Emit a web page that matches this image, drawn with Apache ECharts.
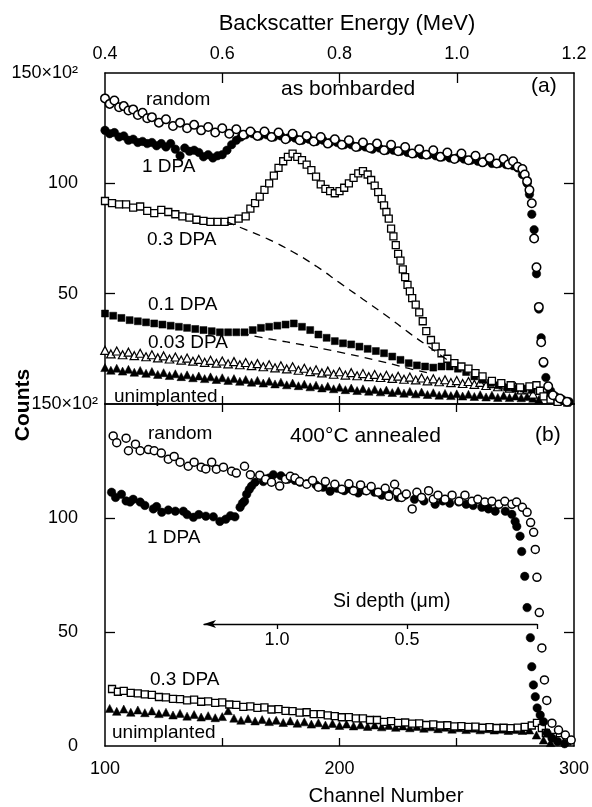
<!DOCTYPE html>
<html><head><meta charset="utf-8">
<script src="https://cdn.jsdelivr.net/npm/echarts@6/dist/echarts.min.js"></script>
<style>html,body{margin:0;padding:0;background:#fff}#c{width:592px;height:807px}</style>
</head><body><div id="c"></div>
<script>
// ---------------- DATA ----------------
// x = channel number, y = counts (x10^2)
// Panel (a) as bombarded
const randA_ch = [100,102,104,106,108,110,112,114,116,118,120,123,126,129,132,135,138,141,144,147,150,153,156,159,162,165,168,171,174,177,180,183,186,189,192,195,198,201,204,207,210,213,216,219,222,225,228,231,234,237,240,243,246,249,252,255,258,261,264,267,270,272,274,276,278,279,280,281,282,283,284,285,286,287,289,291,294,297];
const randA_v  = [138.5,136,137.5,134.5,135,133,133.5,131,132,129.5,130,127.5,129,126,127.5,125,126.5,124,125.5,123,125,122.5,124.5,122,123.5,121.5,123.5,121,123,120,122.5,119.5,121.5,119,121,118,120,117.5,119.5,116.5,118.5,116,118,115,117.5,114.5,116.5,113.5,115.5,113,115,112,114,111,113.5,110.5,112.5,109.5,111.5,109,111,108.5,110,107.5,106.5,104,101,97,91,75,62,44,28,19,8,4,2.5,1];

const dpa1A_ch = [100,102,104,106,108,110,112,114,116,118,120,122,124,126,128,130,132,134,136,138,140,142,144,146,148,150,152,154,156,158,160,163,166,169,172,175,178,181,184,187,190,193,196,199,202,205,208,211,214,217,220,223,226,229,232,235,238,241,244,247,250,253,256,259,262,265,268,271,274,276,278,280,281,282,283,284,285,286,287,288,290,292,295,298];
const dpa1A_v  = [124,122.5,123,121,121.5,119.5,120,118.5,119,118,118.5,117,118,116.5,118,115.5,112.5,116,114.5,115,114,112,113,111.5,112.5,113,115,117.5,119.5,121,122,122.5,121.5,122,121,121.5,120.5,120.5,119.5,120,119,119.5,118.5,118.5,117.5,117.5,116.5,116.5,115.5,116,115,115,114.5,114,113.5,113,113,112.5,112,111.5,111.5,111,110.5,110,110,109,109,108.5,108,107,104,100,95,86,79,59,43,30,18.5,12,6,3.5,2,1];

const dpa03A_ch = [100,103,106,109,112,115,118,121,124,127,130,133,136,139,142,145,148,151,154,157,160,162,164,166,168,170,172,174,176,178,180,182,184,186,188,190,192,194,196,198,200,202,204,206,208,210,212,213.5,215,216.5,218,219,220,221,222,223,224,225,226,227,228,229,230,231,232.5,234,235.5,237,239,241,243.5,246,249,252,255,258,261,265,269,273,277,281,284,285.5,287,290,293];
const dpa03A_v  = [92,91,90.5,90.5,89,89.5,87.5,86.5,88,87,86,85,84.5,83.5,83,82.5,82.5,82.5,83,84,85,88.5,91,94,97,100,103.5,107,110,112,113.5,112,110.5,108.5,106,103,99.5,97.5,96.5,95.5,96.5,98,100,102.5,104.5,105.5,104,101.5,99,96,93,90,87,84,79.5,76,72,68,65,61,57.5,54,51,48,45,41.5,37.5,33,29,26,23,20.5,18.5,17,16,14,12.5,10.5,9.5,8.5,7.5,8,8.5,6,3.5,2,1];

const dpa01A_ch = [100,103.5,107,110.5,114,117.5,121,124.5,128,131.5,135,138.5,142,145.5,149,152.5,156,159.5,163,166.5,170,173.5,177,180.5,184,187.5,191,194.5,198,201.5,205,208.5,212,215.5,219,222.5,226,229.5,233,236.5,240,243.5,247,250.5,254,257.5,261,264.5,268,271.5,275,278.5,282,285.5,288,291,294,297];
const dpa01A_v  = [41,40,39,38,37.5,37,36.5,36,35.5,35,34.5,34,33.5,33,32.5,32.5,32.5,32.5,33.5,34.5,35,35.5,36,36.5,35,33.5,31.5,30,28.5,27.5,27,26,25,24,23,21.5,20,18.5,17.5,17,16.5,17,17,16,14.5,12.5,11,9.5,8.5,7.5,7,7,6.5,6,4,2.5,1.5,0.5];

const dpa003A_ch = [100,102.5,105,107.5,110,112.5,115,117.5,120,122.5,125,127.5,130,132.5,135,137.5,140,142.5,145,147.5,150,152.5,155,157.5,160,162.5,165,167.5,170,172.5,175,177.5,180,182.5,185,187.5,190,192.5,195,197.5,200,202.5,205,207.5,210,212.5,215,217.5,220,222.5,225,227.5,230,232.5,235,237.5,240,242.5,245,247.5,250,252.5,255,257.5,260,262.5,265,267.5,270,272.5,275,277.5,280,282.5];
const dpa003A_v  = [24.3,22.7,24,22.3,23.5,21.9,23,21.4,22.3,20.9,21.8,20.4,21.3,19.9,20.8,19.4,20.2,18.9,19.8,18.5,19.5,18.2,19.2,17.8,18.8,17.4,18.3,16.9,17.8,16.4,17.3,15.9,16.9,15.3,16.2,14.7,15.5,14.1,14.9,13.5,14.6,13.1,14.2,12.8,13.8,12.4,13.4,12,13,11.6,12.6,11.2,12.2,10.9,11.8,10.5,11.4,10.1,11,9.7,10.6,9.3,10.2,8.9,9.8,8.4,9.2,7.8,8.6,7.2,7.8,6.4,6.8,4.5];

const unimpA_ch = [100,102.5,105,107.5,110,112.5,115,117.5,120,122.5,125,127.5,130,132.5,135,137.5,140,142.5,145,147.5,150,152.5,155,157.5,160,162.5,165,167.5,170,172.5,175,177.5,180,182.5,185,187.5,190,192.5,195,197.5,200,202.5,205,207.5,210,212.5,215,217.5,220,222.5,225,227.5,230,232.5,235,237.5,240,242.5,245,247.5,250,252.5,255,257.5,260,262.5,265,267.5,270,272.5,275,277.5,280,282.5,285];
const unimpA_v  = [16.5,15.3,16.2,14.9,15.7,14.4,15.2,13.9,14.7,13.4,14.2,12.9,13.7,12.4,13.2,11.9,12.7,11.5,12.3,11.1,11.9,10.7,11.5,10.3,11.1,9.9,10.7,9.5,10.3,9.1,9.9,8.7,9.5,8.3,9.0,7.8,8.5,7.3,8.0,6.9,7.6,6.5,7.2,6.1,6.9,5.8,6.6,5.5,6.3,5.2,6.0,4.9,5.7,4.6,5.4,4.3,5.1,4.0,4.8,3.8,4.6,3.6,4.4,3.4,4.2,3.2,4.0,3.0,3.8,2.9,3.6,2.8,3.4,2.6,2.0];

// dashed "dechanneling" baselines
const dashHi_ch = [152,160,170,180,190,200,210,220,230,240,246];
const dashHi_v  = [82.5,79,74.5,69,62.5,55,47.5,40,32,24.5,20];
const dashLo_ch = [158,170,185,200,215,230,238];
const dashLo_v  = [32,29.5,26.7,23.5,20,16,14];

// Panel (b) 400 C annealed
const randB_ch = [103.5,105,109,110,113,115,118.5,121,124,127,129.5,132,135.5,138,141,143,145.5,147.5,150.5,154,156,159.5,162,166,168.5,171,174.5,177,179,181,183,186,188.5,191,194,198,201,204,206,209,211.5,213.5,216.5,219.5,221,223.5,224.5,226.5,228.5,231,233,235,238,240,242,245,248,251,253.5,256.5,259,262,265,268,270.5,273.5,275.5,278,280,281.5,282.8,283.5,284.2,285.2,286.3,287.4,288.4,290.6,293.4,296.3,298.8];
const randB_v  = [136,133,135,129.5,132.4,129.5,130,129.5,128.5,125.8,127,124.5,122.7,124.5,122.3,121.5,124.5,121.4,122.3,120.5,119.7,122.7,119,118.8,117,115.7,114,117,118.3,117.5,116,114.8,116.5,113.5,116,114.8,112.6,115,112,114.5,112,113.8,111.3,113,109.5,114.8,111.3,109,110.5,104,111.3,109,112,108.2,110,108.2,110,107.3,110,107.3,108.2,107,107.3,106,107.3,106,107,104.7,102.5,98,93.7,86.2,74,58.5,43,29,20,10,7,4.8,2.6];

const dpa1B_ch = [102.8,104.5,107,109,110.7,112,115,117,120.6,122,124.2,127,130,133.4,135,137.7,140,143,146.2,149,151.5,153.5,155.4,157.6,158.6,159.5,160.4,161.5,162.5,164,167.5,170,171.8,175,178,181,183.2,186,190,193,196,199,202,205,208,211,215,218,221,225,228,232,236,240.8,244,247,250.8,254,257,260.7,263.5,266.4,270.7,273.5,274.9,275.6,277,277.7,279,280,281.4,282,282.7,283.5,284.3,285.6,287,288.5,290.6,293,296];
const dpa1B_v  = [111.3,109,110.4,107.5,107,108.2,107,105.5,104,105,102.5,103.5,103,103,101.5,100.3,101.5,100.8,100.5,98.5,99.5,101,100.5,104.7,106.5,107.4,110.4,112.5,114,115.7,116,117.5,119,118.5,117,116.5,115.7,115,114.5,113.5,111.7,113,112,112.6,111,112,111.3,110,110.5,109,110,108.2,107.5,106,107.5,106.5,107,106,105.5,104.7,104,103,103,101.6,98.5,96.3,92,85.3,74.4,60.7,47.5,34.8,26.8,21.6,16.7,13.6,10.6,5.7,3.5,2,1];

const dpa03B_ch = [103,105.5,108,111,114,117,120,123,126,129,132,135,138,141,144,147,150,153,156,159,162,165,168,171,174,177,180,183,186,189,192,195,198,201,204,207,210,213,216,219,222,225,228,231,234,237,240,243,246,249,252,255,258,261,264,267,270,273,276,279,282,284.2,286.3,288,291,294,297];
const dpa03B_v  = [25,23.8,24.2,23.3,23.1,22.6,22.4,21.5,21.3,20.7,20.6,20,20.3,19.4,19.6,18.9,19.1,18.2,18,17.2,17.4,16.7,16.9,16,16.2,15.4,15.3,14.6,14.8,14,14,13.4,13.1,12.6,12.7,12.1,12.1,11.4,11.4,10.6,10.9,10.1,10.3,9.8,9.9,9.2,9.5,9,9.1,8.6,8.7,8.4,8.5,8,8.3,7.9,8,7.8,8.1,8.4,9,10.1,7.9,5.7,4,2.6,2];

const unimpB_ch = [102,105,108,111,114,117,120,123,126,129,132,135,138,141,144,147,150,152.5,155,158,161,164,167,170,173,176,179,182,185,188,191,194,197,200,203,206,209,212,215,218,221,224,227,230,233,236,239,242,245,248,251,254,257,260,263,266,269,272,275,278,281,284,287,290];
const unimpB_v  = [16.5,15.2,16.2,14.8,15.8,14.6,15.4,14.2,14.8,13.6,14.3,13.1,13.8,12.7,13.3,12.4,12.9,15.5,12.2,11.3,12,11,11.6,10.7,11.3,10.3,11,10,10.6,9.6,10.2,9.2,9.9,9,9.6,8.8,9.3,8.6,9.2,8.4,9,8.2,8.8,8,8.6,7.8,8.4,7.6,8.2,7.4,8,7.2,7.8,7.1,7.6,7,7.4,6.8,7.2,6.8,7,4.8,2.6,1.5];

// axis ticks
const chanLabels = [100, 200, 300];
const chanMinorTicks = [150, 200, 250];
const energyLabels = [0.4, 0.6, 0.8, 1.0, 1.2];
const energyTicks = [0.6, 0.8, 1.0];
const countTicks = [50, 100];
const depthTicks = [1.0, 0.5, 0];
const depthLabels = [1.0, 0.5];

// ---------------- CHART ----------------
const FONT = '"Liberation Sans", Arial, sans-serif';
const BLACK = '#000';
const zip = (xs, ys) => xs.slice(0, Math.min(xs.length, ys.length)).map((x, i) => [x, ys[i]]);

const line = {show: true, onZero: false, lineStyle: {color: BLACK, width: 1.5}};
const lbl = (extra) => Object.assign({fontSize: 18, fontFamily: FONT, color: BLACK}, extra);

const xAxis = [
  {gridIndex: 0, type: 'value', min: 100, max: 300, position: 'bottom', axisLine: line,
   axisTick: {show: true, inside: true, length: 8, customValues: chanMinorTicks, lineStyle: {color: BLACK, width: 1.3}},
   axisLabel: {show: false}, splitLine: {show: false}},
  {gridIndex: 0, type: 'value', min: 0.4, max: 1.2, position: 'top', axisLine: line,
   axisTick: {show: true, inside: true, length: 10, customValues: energyTicks, lineStyle: {color: BLACK, width: 1.3}},
   axisLabel: lbl({show: true, margin: 10, customValues: energyLabels, formatter: v => v.toFixed(1)}),
   splitLine: {show: false}},
  {gridIndex: 1, type: 'value', min: 100, max: 300, position: 'bottom', axisLine: line,
   axisTick: {show: true, inside: true, length: 8, customValues: chanMinorTicks, lineStyle: {color: BLACK, width: 1.3}},
   axisLabel: lbl({show: true, margin: 14, customValues: chanLabels, formatter: v => String(v)}),
   splitLine: {show: false}},
  {gridIndex: 1, type: 'value', min: 100, max: 300, position: 'top', axisLine: line,
   axisTick: {show: true, inside: true, length: 8, customValues: chanMinorTicks, lineStyle: {color: BLACK, width: 1.3}},
   axisLabel: {show: false}, splitLine: {show: false}},
  // Si depth axis (depth increases to the left)
  {gridIndex: 2, type: 'value', min: -1.281, max: 0, position: 'bottom',
   axisLine: {show: true, onZero: false, symbol: ['arrow', 'none'], symbolSize: [6, 12], lineStyle: {color: BLACK, width: 1.3}},
   axisTick: {show: true, inside: false, length: 5, customValues: depthTicks.map(d => -d), lineStyle: {color: BLACK, width: 1.3}},
   axisLabel: lbl({show: true, margin: 7, customValues: depthLabels.map(d => -d), formatter: v => (-v).toFixed(1)}),
   splitLine: {show: false}}
];

const yAxis = [
  {gridIndex: 0, type: 'value', min: 0, max: 150, position: 'left', axisLine: line,
   axisTick: {show: true, inside: true, length: 10, customValues: countTicks, lineStyle: {color: BLACK, width: 1.3}},
   axisLabel: lbl({show: true, margin: 27, customValues: [50, 100, 150], formatter: v => v === 150 ? '150×10²' : String(v)}),
   splitLine: {show: false}},
  {gridIndex: 0, type: 'value', min: 0, max: 150, position: 'right', axisLine: line,
   axisTick: {show: true, inside: true, length: 10, customValues: countTicks, lineStyle: {color: BLACK, width: 1.3}},
   axisLabel: {show: false}, splitLine: {show: false}},
  {gridIndex: 1, type: 'value', min: 0, max: 150, position: 'left', axisLine: line,
   axisTick: {show: true, inside: true, length: 10, customValues: countTicks, lineStyle: {color: BLACK, width: 1.3}},
   axisLabel: lbl({show: true, margin: 27, customValues: [0, 50, 100], formatter: v => String(v)}),
   splitLine: {show: false}},
  {gridIndex: 1, type: 'value', min: 0, max: 150, position: 'right', axisLine: line,
   axisTick: {show: true, inside: true, length: 10, customValues: countTicks, lineStyle: {color: BLACK, width: 1.3}},
   axisLabel: {show: false}, splitLine: {show: false}},
  {gridIndex: 1, type: 'value', min: 0, max: 150, position: 'left', axisLine: {show: false, onZero: false},
   axisTick: {show: false},
   axisLabel: lbl({show: true, margin: 7, customValues: [150], formatter: () => '150×10²'}),
   splitLine: {show: false}},
  {gridIndex: 2, type: 'value', min: 0, max: 1, show: false, axisLine: {onZero: false}}
];

function sc(name, xi, yi, data, symbol, size, filled, bw) {
  return {
    name, type: 'scatter', xAxisIndex: xi, yAxisIndex: yi, data,
    symbol, symbolSize: size, silent: true, animation: false,
    itemStyle: {color: filled ? BLACK : '#fff', borderColor: BLACK, borderWidth: filled ? 0.5 : (bw || 1.5), opacity: 1}
  };
}
function dash(name, data) {
  return {name, type: 'line', xAxisIndex: 0, yAxisIndex: 0, data, smooth: true, showSymbol: false,
    silent: true, animation: false, lineStyle: {color: BLACK, width: 1.3, type: [8, 6]}};
}

const series = [
  dash('0.3 DPA baseline', zip(dashHi_ch, dashHi_v)),
  dash('0.1 DPA baseline', zip(dashLo_ch, dashLo_v)),
  sc('unimplanted (a)', 0, 0, zip(unimpA_ch, unimpA_v), 'triangle', [8.5, 8], true),
  sc('0.03 DPA (a)', 0, 0, zip(dpa003A_ch, dpa003A_v), 'triangle', [8.5, 8], false, 1.2),
  sc('0.1 DPA (a)', 0, 0, zip(dpa01A_ch, dpa01A_v), 'rect', 7, true),
  sc('0.3 DPA (a)', 0, 0, zip(dpa03A_ch, dpa03A_v), 'rect', 7, false, 1.3),
  sc('1 DPA (a)', 0, 0, zip(dpa1A_ch, dpa1A_v), 'circle', 8.5, true),
  sc('random (a)', 0, 0, zip(randA_ch, randA_v), 'circle', 8.5, false),
  sc('unimplanted (b)', 2, 2, zip(unimpB_ch, unimpB_v), 'triangle', [8.5, 8], true),
  sc('0.3 DPA (b)', 2, 2, zip(dpa03B_ch, dpa03B_v), 'rect', 7, false, 1.3),
  sc('1 DPA (b)', 2, 2, zip(dpa1B_ch, dpa1B_v), 'circle', 8.5, true),
  sc('random (b)', 2, 2, zip(randB_ch, randB_v), 'circle', 8, false)
];

function txt(text, x, y, size, opts) {
  opts = opts || {};
  const el = {type: 'text', x, y, silent: true, z: 100,
    style: {text, fontSize: size, fontFamily: FONT, fill: BLACK, fontWeight: opts.weight || 'normal',
      align: opts.align || 'left', verticalAlign: 'middle',
      textAlign: opts.align || 'left', textVerticalAlign: 'middle'}};
  if (opts.rotation) el.rotation = opts.rotation;
  return el;
}

const graphic = [
  txt('Backscatter Energy (MeV)', 347, 24, 22, {align: 'center'}),
  txt('Counts', 23, 405, 21, {align: 'center', rotation: Math.PI / 2, weight: 'bold'}),
  txt('Channel Number', 386, 796, 20.5, {align: 'center'}),
  // panel (a)
  txt('random', 146, 100, 19),
  txt('as bombarded', 281, 89, 21),
  txt('(a)', 531, 86, 21),
  txt('1 DPA', 142, 167, 19),
  txt('0.3 DPA', 147, 240, 19),
  txt('0.1 DPA', 148, 305, 19),
  txt('0.03 DPA', 148, 343, 19),
  txt('unimplanted', 114, 397, 19),
  // panel (b)
  txt('random', 148, 434, 19),
  txt('400°C annealed', 290, 436, 21),
  txt('(b)', 535, 435, 21),
  txt('1 DPA', 147, 538, 19),
  txt('Si depth (μm)', 333, 602, 19.5),
  txt('0.3 DPA', 150, 680, 19),
  txt('unimplanted', 112, 733, 19)
];

const chart = echarts.init(document.getElementById('c'), null, {renderer: 'canvas'});
chart.setOption({
  backgroundColor: '#fff',
  animation: false,
  grid: [
    {left: 105, top: 73, width: 469, height: 331},
    {left: 105, top: 404, width: 469, height: 342},
    {left: 204, top: 622, width: 333, height: 2}
  ],
  xAxis, yAxis, series, graphic
});
</script></body></html>
